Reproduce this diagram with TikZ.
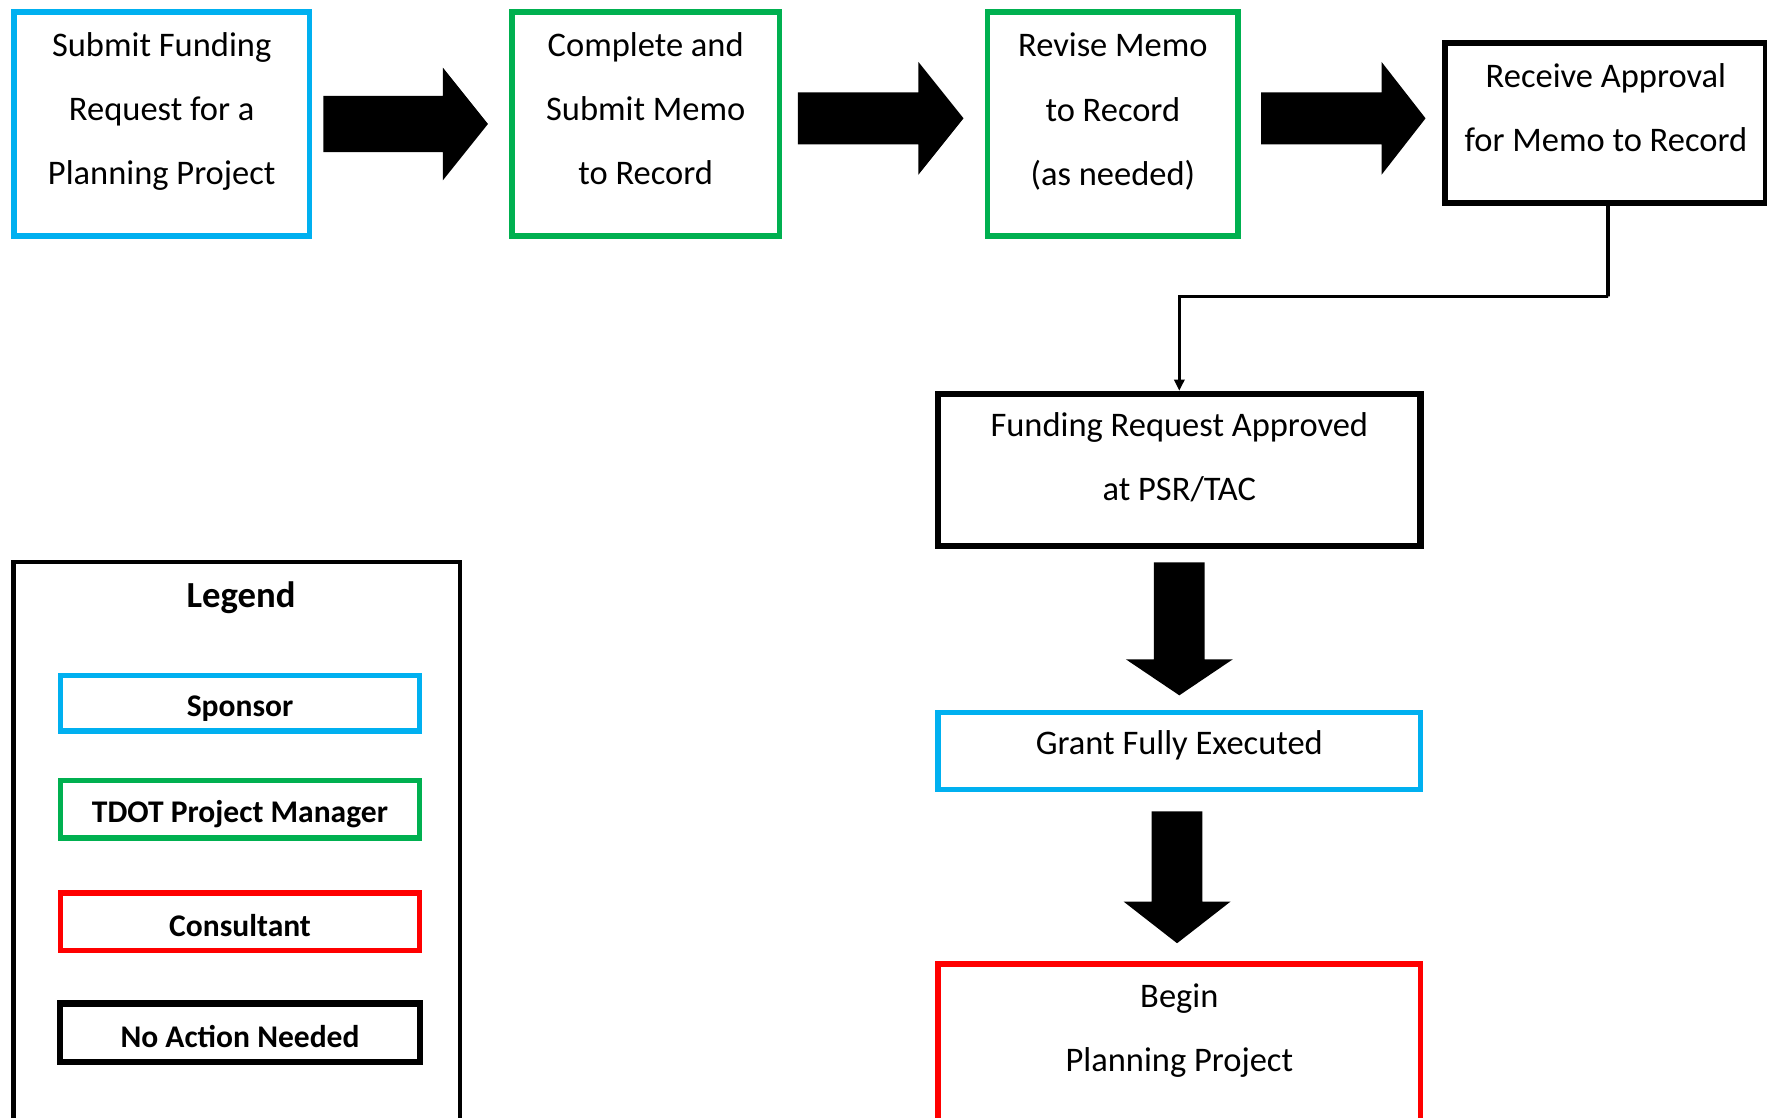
\documentclass[tikz,border=0pt]{standalone}
\usepackage{fontspec}
\setmainfont{Carlito}
\usetikzlibrary{arrows.meta,calc}

\definecolor{sponsorblue}{HTML}{00B0F0}
\definecolor{pmgreen}{HTML}{00B050}
\definecolor{consred}{HTML}{FF0000}

\tikzset{
  stepbox/.style={draw, rectangle, line width=2.4pt, inner sep=0pt, fill=white},
  sponsorbox/.style={stepbox, draw=sponsorblue},
  pmbox/.style={stepbox, draw=pmgreen},
  consbox/.style={stepbox, draw=consred},
  noactbox/.style={stepbox, draw=black, line width=2.7pt},
  steptext/.style={align=center, inner sep=0pt,
    font=\fontsize{15.3}{28.5}\selectfont},
  legitem/.style={stepbox, minimum width=159.5pt, line width=2.4pt},
  legtext/.style={inner sep=0pt, font=\fontsize{14}{16}\selectfont\bfseries},
  blockarrow/.style={fill=black},
  conn/.style={draw=black, line width=1.6pt, -{Triangle[length=5pt,width=4.5pt]}}
}

\begin{document}
\begin{tikzpicture}[x=0.5pt, y=-0.5pt]
  \clip (0,0) rectangle (1568,992);
  \fill[white] (0,0) rectangle (1568,992);

  % ---- top row of steps ----
  \node[sponsorbox, minimum width=131pt, minimum height=99.5pt] (b1) at (143.5,110) {};
  \node[steptext] (t1) at (143.5,99) {Submit Funding\\Request for a\\Planning Project};

  \node[pmbox, minimum width=118.5pt, minimum height=99.5pt] (b2) at (573,110) {};
  \node[steptext] (t2) at (573,96.5) {Complete and\\Submit Memo\\to Record};

  \node[pmbox, minimum width=111pt, minimum height=99.5pt] (b3) at (987.5,110) {};
  \node[steptext] (t3) at (987.5,99) {Revise Memo\\to Record\\(as needed)};

  \node[noactbox, minimum width=142.25pt, minimum height=71pt] (b4) at (1424.75,109.5) {};
  \node[steptext] (t4) at (1425,95.5) {Receive Approval\\for Memo to Record};

  % ---- right column of steps ----
  \node[noactbox, minimum width=214pt, minimum height=67.5pt] (b5) at (1046.5,417) {};
  \node[steptext] (t5) at (1046.5,405.5) {Funding Request Approved\\at PSR/TAC};

  \node[sponsorbox, minimum width=214pt, minimum height=34pt] (b6) at (1046.5,666.5) {};
  \node[steptext] (t6) at (1046.5,661.5) {Grant Fully Executed};

  \node[consbox, minimum width=214pt, minimum height=77.25pt] (b7) at (1046.5,932.75) {};
  \node[steptext] (t7) at (1046.5,914.5) {Begin\\Planning Project};

  % ---- block arrows between steps ----
  \fill[blockarrow] (287,85) -- ++(106,0) -- ++(0,-25) -- ++(40,50)
                    -- ++(-40,50) -- ++(0,-25) -- ++(-106,0) -- cycle;
  \fill[blockarrow] (708,82) -- ++(107,0) -- ++(0,-27) -- ++(40,50)
                    -- ++(-40,50) -- ++(0,-27) -- ++(-107,0) -- cycle;
  \fill[blockarrow] (1119,82) -- ++(107,0) -- ++(0,-27) -- ++(39,50)
                    -- ++(-39,50) -- ++(0,-27) -- ++(-107,0) -- cycle;
  \fill[blockarrow] (1024,499) -- ++(0,86) -- ++(-25,0) -- ++(47.5,32)
                    -- ++(47.5,-32) -- ++(-25,0) -- ++(0,-86) -- cycle;
  \fill[blockarrow] (1022,720) -- ++(0,80) -- ++(-25,0) -- ++(47.5,37)
                    -- ++(47.5,-37) -- ++(-25,0) -- ++(0,-80) -- cycle;

  % ---- elbow connector from approval to PSR/TAC ----
  \coordinate (bend) at (1427,263);
  \draw[conn] ([xshift=1.1pt]b4.south) |- (bend) -| (b5.north);

  % ---- legend ----
  \node[stepbox, draw=black, line width=1.8pt, minimum width=198pt, minimum height=255.5pt, fill=none] (leg) at (210,754.5) {};
  \node[inner sep=0pt, font=\fontsize{16.3}{18}\selectfont\bfseries] (legtitle) at (214,530) {Legend};

  \node[legitem, draw=sponsorblue, minimum height=24.5pt] (l1) at (213,624) {};
  \node[legtext] (lt1) at (213,629) {Sponsor};

  \node[legitem, draw=pmgreen, minimum height=25.5pt] (l2) at (213,718) {};
  \node[legtext] (lt2) at (213,722) {TDOT Project Manager};

  \node[legitem, draw=consred, minimum height=25.5pt] (l3) at (213,818) {};
  \node[legtext] (lt3) at (213,821) {Consultant};

  \node[legitem, draw=black, line width=2.7pt, minimum height=26pt] (l4) at (213,916.5) {};
  \node[legtext] (lt4) at (213,920) {No Action Needed};
\end{tikzpicture}
\end{document}
